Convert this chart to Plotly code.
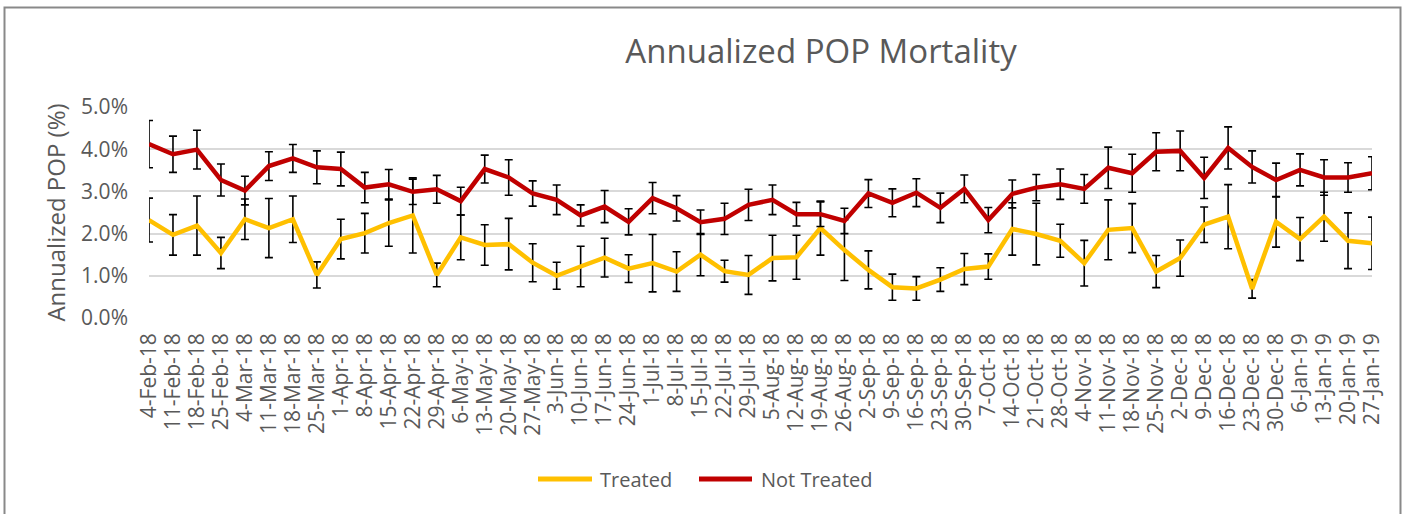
import plotly.graph_objects as go

week_labels = [
    "4-Feb-18", "11-Feb-18", "18-Feb-18", "25-Feb-18",
    "4-Mar-18", "11-Mar-18", "18-Mar-18", "25-Mar-18",
    "1-Apr-18", "8-Apr-18", "15-Apr-18", "22-Apr-18", "29-Apr-18",
    "6-May-18", "13-May-18", "20-May-18", "27-May-18",
    "3-Jun-18", "10-Jun-18", "17-Jun-18", "24-Jun-18",
    "1-Jul-18", "8-Jul-18", "15-Jul-18", "22-Jul-18", "29-Jul-18",
    "5-Aug-18", "12-Aug-18", "19-Aug-18", "26-Aug-18",
    "2-Sep-18", "9-Sep-18", "16-Sep-18", "23-Sep-18", "30-Sep-18",
    "7-Oct-18", "14-Oct-18", "21-Oct-18", "28-Oct-18",
    "4-Nov-18", "11-Nov-18", "18-Nov-18", "25-Nov-18",
    "2-Dec-18", "9-Dec-18", "16-Dec-18", "23-Dec-18", "30-Dec-18",
    "6-Jan-19", "13-Jan-19", "20-Jan-19", "27-Jan-19",
]

treated = [
    2.32, 1.97, 2.19, 1.54, 2.34, 2.13, 2.34, 1.02, 1.87, 2.01,
    2.25, 2.43, 1.02, 1.91, 1.73, 1.75, 1.31, 1.00, 1.22, 1.43,
    1.17, 1.30, 1.10, 1.50, 1.11, 1.02, 1.42, 1.44, 2.13, 1.61,
    1.14, 0.73, 0.70, 0.91, 1.16, 1.22, 2.11, 1.99, 1.83, 1.30,
    2.09, 2.13, 1.10, 1.42, 2.21, 2.40, 0.69, 2.28, 1.87, 2.40,
    1.83, 1.77,
]
treated_err = [
    0.52, 0.48, 0.70, 0.37, 0.48, 0.70, 0.55, 0.31, 0.47, 0.47,
    0.55, 0.89, 0.28, 0.53, 0.48, 0.61, 0.45, 0.32, 0.48, 0.46,
    0.33, 0.68, 0.47, 0.50, 0.26, 0.46, 0.54, 0.52, 0.64, 0.72,
    0.45, 0.31, 0.28, 0.28, 0.37, 0.30, 0.62, 0.73, 0.39, 0.54,
    0.71, 0.58, 0.38, 0.43, 0.42, 0.76, 0.22, 0.60, 0.51, 0.58,
    0.66, 0.62,
]

not_treated = [
    4.12, 3.88, 3.99, 3.27, 3.02, 3.60, 3.78, 3.57, 3.53, 3.09,
    3.17, 2.99, 3.05, 2.77, 3.53, 3.33, 2.95, 2.80, 2.43, 2.64,
    2.28, 2.84, 2.60, 2.27, 2.35, 2.68, 2.80, 2.46, 2.46, 2.30,
    2.95, 2.73, 2.97, 2.61, 3.06, 2.32, 2.94, 3.09, 3.17, 3.06,
    3.56, 3.43, 3.94, 3.96, 3.32, 4.03, 3.58, 3.27, 3.51, 3.33,
    3.33, 3.43,
]
not_treated_err = [
    0.56, 0.43, 0.46, 0.38, 0.34, 0.34, 0.33, 0.39, 0.40, 0.36,
    0.35, 0.30, 0.33, 0.33, 0.33, 0.42, 0.30, 0.35, 0.25, 0.38,
    0.31, 0.37, 0.30, 0.29, 0.37, 0.37, 0.35, 0.28, 0.29, 0.30,
    0.33, 0.33, 0.33, 0.35, 0.33, 0.30, 0.33, 0.31, 0.36, 0.34,
    0.49, 0.45, 0.45, 0.47, 0.49, 0.50, 0.38, 0.40, 0.38, 0.42,
    0.35, 0.39,
]

y_ticks = [0, 1, 2, 3, 4, 5]

series_names = ["Treated", "Not Treated"]
series_colors = ["#FFC000", "#C00000"]

FONT = "Open Sans"
TXT = "#595959"

fig = go.Figure()

for name, ys, errs, col in zip(series_names, [treated, not_treated],
                               [treated_err, not_treated_err], series_colors):
    fig.add_trace(go.Scatter(
        x=week_labels, y=ys, name=name, mode="lines",
        line=dict(color=col, width=4.5),
        error_y=dict(type="data", array=errs, visible=True,
                     color="black", thickness=1.6, width=4),
        cliponaxis=False, showlegend=False,
    ))

plot_l, plot_r, plot_t, plot_b = 149, 1372, 107, 318
W, H = 1405, 514
pw, ph = plot_r - plot_l, plot_b - plot_t

def px_x(px):
    return (px - plot_l) / pw

def px_y(py):
    return (plot_b - py) / ph

# manual legend (line sample + label) to match the original's long swatches
legend_y = px_y(479)
legend_items = [(538, 592, 598), (699, 752, 759)]
shapes = [dict(type="rect", xref="paper", yref="paper",
               x0=px_x(4.5), x1=px_x(1400.5), y0=px_y(530), y1=px_y(7.5),
               line=dict(color="#898989", width=2), fillcolor="rgba(0,0,0,0)",
               layer="below")]
annotations = []
for (lx0, lx1, tx), name, col in zip(legend_items, series_names, series_colors):
    shapes.append(dict(type="line", xref="paper", yref="paper",
                       x0=px_x(lx0), x1=px_x(lx1), y0=legend_y, y1=legend_y,
                       line=dict(color=col, width=5)))
    annotations.append(dict(text=name, xref="paper", yref="paper",
                            x=px_x(tx), y=legend_y, xanchor="left",
                            yanchor="middle", showarrow=False,
                            font=dict(family=FONT, size=20, color=TXT)))

fig.update_layout(
    width=W, height=H,
    margin=dict(l=plot_l, r=W - plot_r, t=plot_t, b=H - plot_b),
    paper_bgcolor="white", plot_bgcolor="white",
    font=dict(family=FONT, color=TXT),
    title=dict(text="Annualized POP Mortality",
               font=dict(family=FONT, size=33, color=TXT),
               x=px_x(821), xref="paper", xanchor="center",
               y=1 - 51 / H, yref="container", yanchor="middle"),
    showlegend=False,
    xaxis=dict(type="category", categoryorder="array", categoryarray=week_labels,
               tickmode="array", tickvals=week_labels, ticktext=week_labels,
               range=[0, len(week_labels) - 1], automargin=False,
               tickangle=-90, tickfont=dict(family=FONT, size=21, color=TXT),
               showgrid=False, showline=False, zeroline=False,
               ticks="", ticklabelstandoff=10),
    yaxis=dict(range=[0, 5], tickvals=y_ticks, automargin=False,
               ticktext=[f"{v:.1f}%" for v in y_ticks],
               tickfont=dict(family=FONT, size=21, color=TXT),
               showgrid=True, gridcolor="#D9D9D9", gridwidth=1.5,
               zeroline=False, showline=False, ticks="",
               ticklabelstandoff=20,
               title=dict(text="Annualized POP (%)",
                          font=dict(family=FONT, size=24, color=TXT),
                          standoff=8)),
    shapes=shapes,
    annotations=annotations,
)

fig.write_html(
    "out.html",
    config={"displayModeBar": False},
    post_script="document.body.style.margin='0';document.body.style.overflow='hidden';",
)
